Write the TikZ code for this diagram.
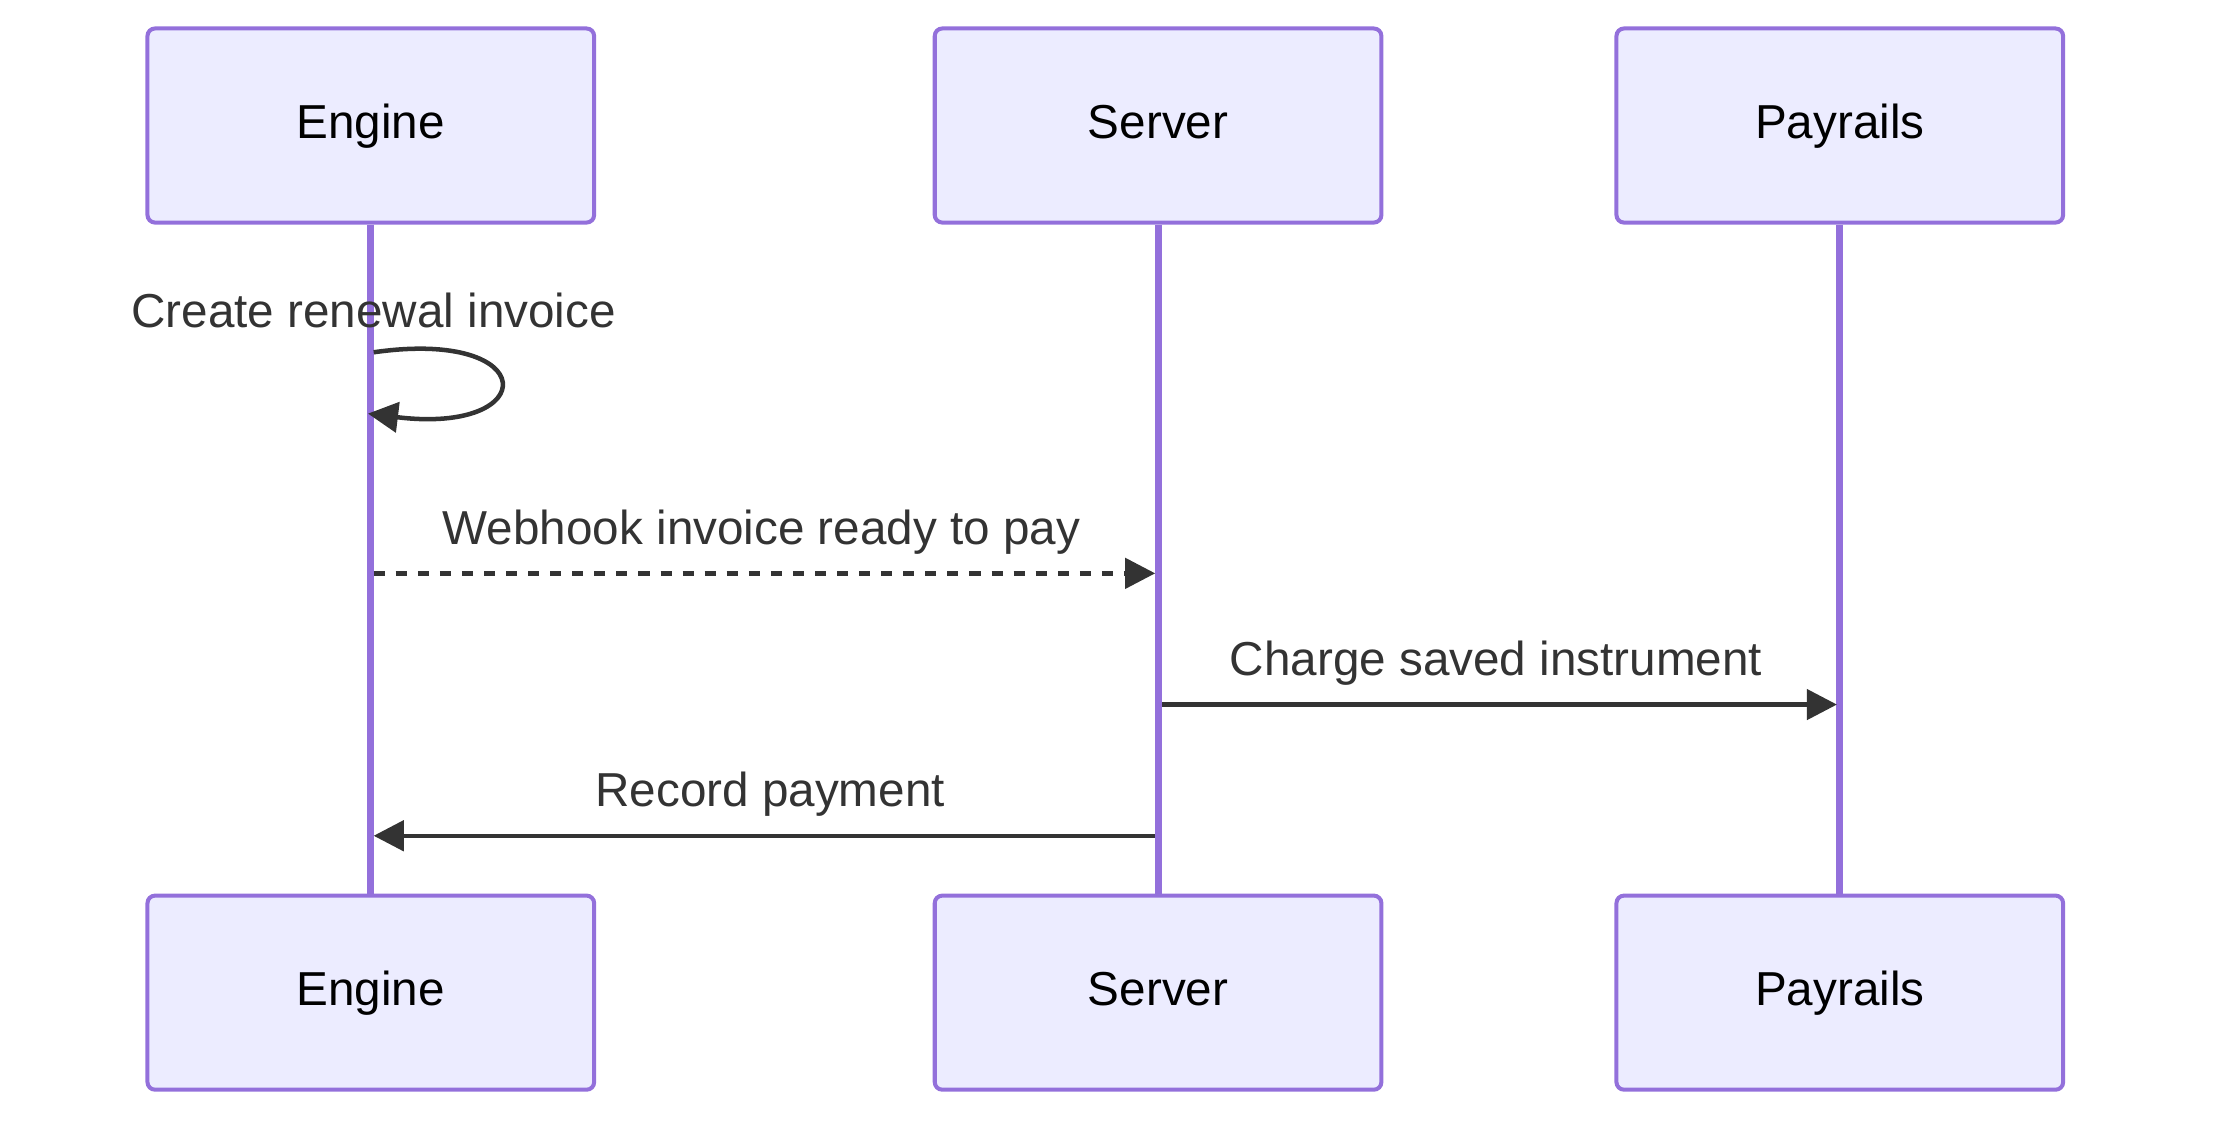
\documentclass[tikz,border=0pt]{standalone}
\usepackage{fontspec}
\setmainfont{Liberation Sans}
\usetikzlibrary{positioning}
\usetikzlibrary{calc}
\usetikzlibrary{arrows.meta}
\definecolor{actfill}{HTML}{ECECFF}
\definecolor{actline}{HTML}{9370DB}
\definecolor{msgline}{HTML}{333333}
\begin{document}
\begin{tikzpicture}[x=0.01cm,y=-0.01cm]
\tikzstyle{actor} =[rectangle,rounded corners=1.5pt,fill=actfill,draw=actline,line width=0.8pt,minimum width=3.13cm,minimum height=1.36cm,text height=7pt,text depth=2pt,font=\fontsize{9.5}{11}\selectfont]
\tikzstyle{life} =[draw=actline,line width=1.4pt]
\tikzstyle{msg} =[draw=msgline,line width=0.9pt,-{Triangle[length=6pt,width=6pt]}]
\tikzstyle{label} =[text=msgline,font=\fontsize{9.5}{11}\selectfont]
\useasboundingbox (0,0) rectangle (1565,793);
\node[actor](engT) at (260,88){Engine};
\node[actor](srvT) at (812,88){Server};
\node[actor](payT) at (1290,88){Payrails};
\node[actor](engB) at (260,696){Engine};
\node[actor](srvB) at (812,696){Server};
\node[actor](payB) at (1290,696){Payrails};
\draw[life] (engT.south)--(engB.north);
\draw[life] (srvT.south)--(srvB.north);
\draw[life] (payT.south)--(payB.north);
% self message
\coordinate (loopA) at (262,247);
\coordinate (loopB) at (258,290);
\node[label](lblLoop) at (262,218){Create renewal invoice};
\draw[msg] (loopA) .. controls (380,230) and (380,305) .. (loopB);
% messages
\coordinate (whA) at (262,402);
\coordinate (whB) at (810,402);
\node[label](lblWh) at (534,373){Webhook invoice ready to pay};
\draw[msg,dash pattern=on 2.2pt off 2.2pt] (whA)--(whB);
\coordinate (chA) at (815,494);
\coordinate (chB) at (1288,494);
\node[label](lblCh) at (1049,465){Charge saved instrument};
\draw[msg] (chA)--(chB);
\coordinate (rpA) at (810,586);
\coordinate (rpB) at (262,586);
\node[label](lblRp) at (540,557){Record payment};
\draw[msg] (rpA)--(rpB);
\end{tikzpicture}
\end{document}
